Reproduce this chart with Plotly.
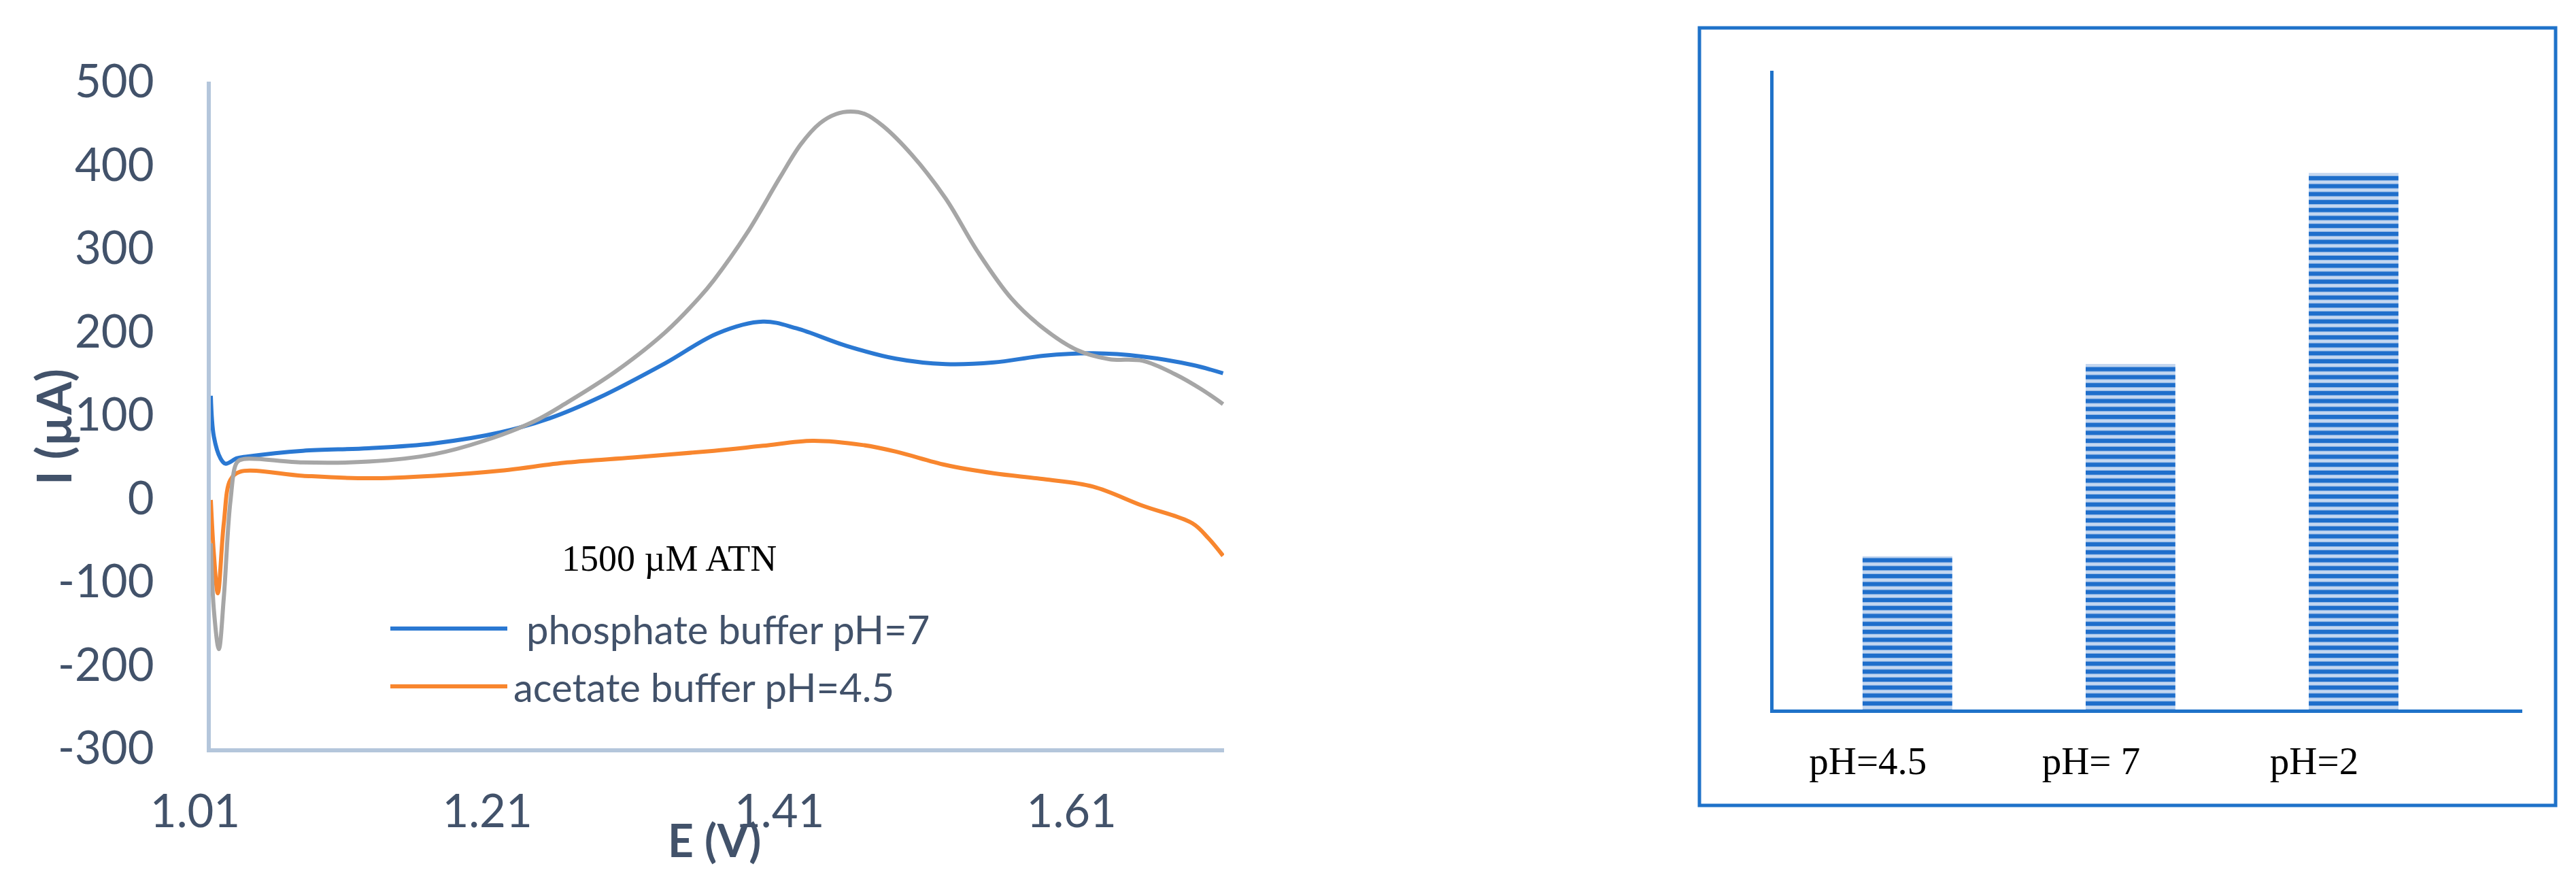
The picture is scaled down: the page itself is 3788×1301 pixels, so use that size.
import plotly.graph_objects as go

# peak currents vs potential
E_blue = [1.010, 1.0121, 1.0166, 1.0200, 1.0279, 1.0347, 1.073, 1.118, 1.163, 1.208, 1.242, 1.276,
          1.321, 1.357, 1.388, 1.411, 1.445, 1.479, 1.513, 1.546, 1.580, 1.614, 1.648, 1.682, 1.703]
I_blue = [123, 74, 48, 41.5, 48, 50, 57, 60, 66, 79, 96, 121,
          162, 198, 212, 204, 183, 167.5, 161, 163, 171, 174, 170, 160, 150]

E_orange = [1.010, 1.0121, 1.0148, 1.0189, 1.0234, 1.0302, 1.073, 1.118, 1.163, 1.208, 1.254, 1.299,
            1.3545, 1.388, 1.422, 1.456, 1.479, 1.513, 1.546, 1.580, 1.614, 1.648, 1.682, 1.693, 1.703]
I_orange = [-2, -67, -114, -30, 22, 32, 27, 24, 27, 33, 43, 49,
            57, 63, 69, 64, 56, 40, 30, 23, 14, -9, -30, -48, -69]

E_gray = [1.010, 1.0121, 1.0155, 1.0189, 1.0234, 1.0279, 1.0324, 1.073, 1.118, 1.163, 1.197, 1.231,
          1.254, 1.287, 1.321, 1.344, 1.3545, 1.377, 1.400, 1.414, 1.427, 1.438, 1.448, 1.458, 1.470,
          1.490, 1.513, 1.535, 1.558, 1.580, 1.603, 1.625, 1.648, 1.670, 1.688, 1.703]
I_gray = [-54, -134, -181, -119, -4, 43, 47, 43, 44, 53, 69, 92,
          115, 152, 199, 240, 262, 318, 386, 425, 450, 461, 464, 461, 447,
          412, 360, 296, 240, 204, 178, 167, 165, 149, 131, 113]

x_ticks = [1.01, 1.21, 1.41, 1.61]
y_ticks = [-300, -200, -100, 0, 100, 200, 300, 400, 500]

bar_labels = ["pH=4.5", "pH= 7", "pH=2"]
bar_values = [24.0, 54.1, 84.0]  # arbitrary units, axis shows no scale

legend_names = ["phosphate buffer pH=7", "acetate buffer pH=4.5"]

W, H = 3788, 1301
OFF = 8  # page body margin


def px(x):
    return (x - OFF) / W


def py(y):
    return 1 - (y - OFF) / H


BLUE = "#2A78D2"
ORANGE = "#F8862E"
GRAY = "#A6A6A6"
SLATE = "#42526A"
BOXBLUE = "#1F72C9"

fig = go.Figure()
for xs, ys, col in [(E_blue, I_blue, BLUE), (E_orange, I_orange, ORANGE), (E_gray, I_gray, GRAY)]:
    fig.add_trace(go.Scatter(x=xs, y=ys, mode="lines", showlegend=False, xaxis="x", yaxis="y",
                             line=dict(color=col, width=6, shape="spline", smoothing=1.0)))

fig.add_trace(go.Bar(x=bar_labels, y=bar_values, width=0.402, showlegend=False, xaxis="x2", yaxis="y2",
                     marker=dict(color=BOXBLUE, line=dict(width=0),
                                 pattern=dict(shape="-", fillmode="replace", fgcolor="#1E6ECB",
                                              bgcolor="#C4D7F0", size=11.7, solidity=0.55))))

fig.update_layout(
    width=W, height=H,
    margin=dict(l=0, r=0, t=0, b=0, autoexpand=False),
    paper_bgcolor="white", plot_bgcolor="white",
    font=dict(family="Lato", color=SLATE),
    xaxis=dict(domain=[px(310), px(1800)], range=[1.01, 1.7037], tickvals=x_ticks,
               ticktext=[f"{v:.2f}" for v in x_ticks], showgrid=False, zeroline=False,
               showline=True, linecolor="#B4C6DB", linewidth=6, ticks="", automargin=False,
               tickfont=dict(size=67, color=SLATE), ticklabelshift=-23, ticklabelstandoff=30),
    yaxis=dict(domain=[py(1100), py(120)], range=[-300, 500], tickvals=y_ticks,
               ticktext=[str(v) for v in y_ticks], automargin=False,
               showgrid=False, zeroline=False, showline=True, linecolor="#B4C6DB", linewidth=6,
               ticks="", tickfont=dict(size=67, color=SLATE), ticklabelstandoff=64),
    xaxis2=dict(domain=[px(2608), px(3709)], range=[-0.60, 2.756], type="category", automargin=False,
                showgrid=False, zeroline=False, showline=True, linecolor=BOXBLUE, linewidth=5,
                ticks="", tickfont=dict(family="Liberation Serif", size=57, color="black"),
                ticklabelshift=-58, ticklabelstandoff=22, anchor="y2"),
    yaxis2=dict(domain=[py(1043), py(104)], range=[0, 100], showgrid=False, zeroline=False,
                showline=True, linecolor=BOXBLUE, linewidth=5, showticklabels=False, ticks="",
                automargin=False, anchor="x2"),
)

# frame around the bar panel
fig.add_shape(type="rect", xref="paper", yref="paper", x0=px(2499), x1=px(3758),
              y0=py(1184), y1=py(41), line=dict(color=BOXBLUE, width=5))

# hand-made legend (long line samples like the original)
for i, (name, col) in enumerate(zip(legend_names, [BLUE, ORANGE])):
    yy = py(924 + 85 * i)
    fig.add_shape(type="line", xref="paper", yref="paper", x0=px(574), x1=px(746), y0=yy, y1=yy,
                  line=dict(color=col, width=6))
    fig.add_annotation(xref="paper", yref="paper", x=px(772 - 19 * i), y=yy, text=name, showarrow=False,
                       xanchor="left", yanchor="middle", font=dict(family="Lato", size=58, color=SLATE))

fig.add_annotation(xref="paper", yref="paper", x=px(984), y=py(821), text="1500 µM ATN", showarrow=False,
                   xanchor="center", yanchor="middle", font=dict(family="Liberation Serif", size=54, color="black"))
fig.add_annotation(xref="paper", yref="paper", x=px(78), y=py(628), text="<b>I (µA)</b>", showarrow=False,
                   textangle=-90, xanchor="center", yanchor="middle", font=dict(family="Lato", size=70, color=SLATE))
fig.add_annotation(xref="paper", yref="paper", x=px(1050), y=py(1234), text="<b>E (V)</b>", showarrow=False,
                   xanchor="center", yanchor="middle", font=dict(family="Lato", size=66, color=SLATE))

fig.write_html("out.html")
